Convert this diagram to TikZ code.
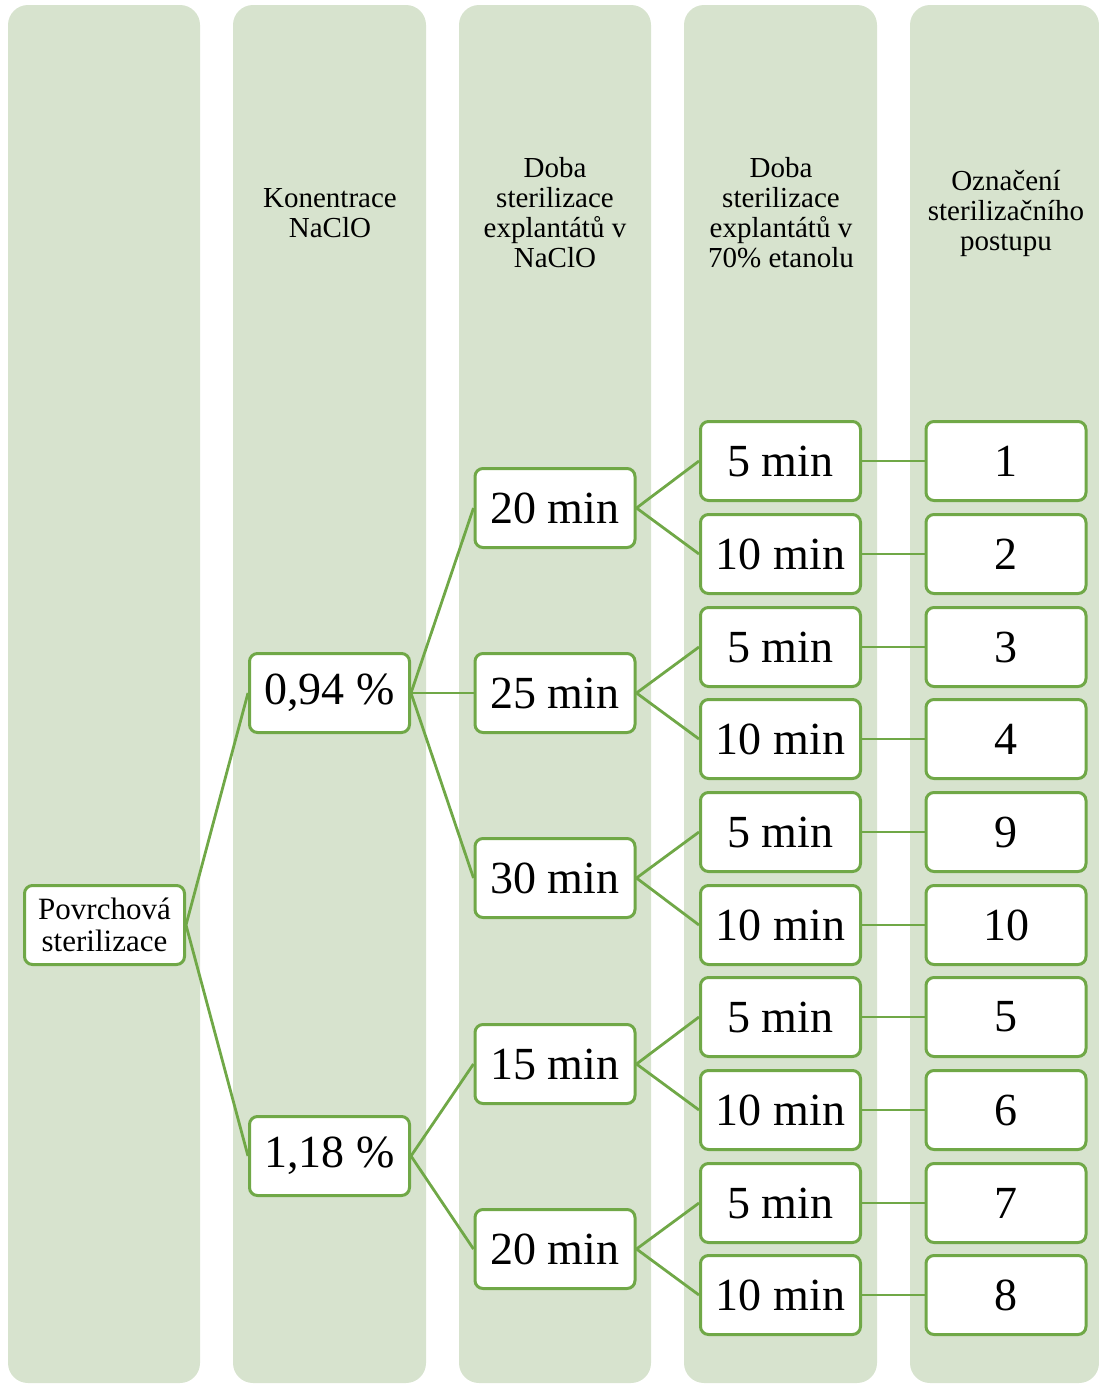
\documentclass[tikz,border=0pt]{standalone}
\usepackage{fontspec}
\setmainfont{Liberation Serif}
\definecolor{colfill}{RGB}{215,227,206}
\definecolor{gline}{RGB}{112,168,71}
\begin{document}
\begin{tikzpicture}[x=1pt,y=-1pt,
  column/.style={fill=colfill, draw=none, rounded corners=20pt},
  box/.style={draw=gline, line width=3pt, fill=white, rounded corners=8pt,
    minimum width=160pt, minimum height=79pt, inner sep=0pt, align=center,
    font=\fontsize{46}{50}\selectfont},
  rootbox/.style={box, font=\fontsize{31}{32}\selectfont},
  head/.style={align=center, font=\fontsize{29}{30}\selectfont, inner sep=0pt},
  conn/.style={draw=gline, line width=2.8pt}]
\useasboundingbox (0,0) rectangle (1099,1384);
% columns
\fill[column] (8,5) rectangle (200,1383);
\fill[column] (233,5) rectangle (426,1383);
\fill[column] (459,5) rectangle (651,1383);
\fill[column] (684,5) rectangle (877,1383);
\fill[column] (910,5) rectangle (1099,1383);
% headers
\node[head] (h2) at (330,213) {Konentrace\\NaClO};
\node[head] (h3) at (555,213) {Doba\\sterilizace\\explantátů v\\NaClO};
\node[head] (h4) at (781,213) {Doba\\sterilizace\\explantátů v\\70\% etanolu};
\node[head] (h5) at (1006,213) {Označení\\sterilizačního\\postupu};
% nodes
\node[rootbox] (root) at (104.5,925) {Povrchová\\sterilizace};
\node[box] (c1) at (329.5,693) {\raisebox{-3pt}{0,94 \%}};
\node[box] (c2) at (329.5,1156) {\raisebox{-3pt}{1,18 \%}};
\node[box] (t1) at (555,508) {20 min};
\node[box] (t2) at (555,693) {25 min};
\node[box] (t3) at (555,878) {30 min};
\node[box] (t4) at (555,1064) {15 min};
\node[box] (t5) at (555,1249) {20 min};
\foreach \i/\y/\lab/\num in {1/461/5 min/1, 2/554/10 min/2, 3/647/5 min/3, 4/739/10 min/4,
  5/832/5 min/9, 6/925/10 min/10, 7/1017/5 min/5, 8/1110/10 min/6, 9/1203/5 min/7, 10/1295/10 min/8}{
  \node[box] (e\i) at (780.5,\y) {\lab};
  \node[box] (n\i) at (1006,\y) {\num};
}
% connectors
\draw[conn] (root.east) -- (c1.west);
\draw[conn] (root.east) -- (c2.west);
\draw[conn] (c1.east) -- (t1.west);
\draw[conn] (c1.east) -- (t2.west);
\draw[conn] (c1.east) -- (t3.west);
\draw[conn] (c2.east) -- (t4.west);
\draw[conn] (c2.east) -- (t5.west);
\draw[conn] (t1.east) -- (e1.west);
\draw[conn] (t1.east) -- (e2.west);
\draw[conn] (t2.east) -- (e3.west);
\draw[conn] (t2.east) -- (e4.west);
\draw[conn] (t3.east) -- (e5.west);
\draw[conn] (t3.east) -- (e6.west);
\draw[conn] (t4.east) -- (e7.west);
\draw[conn] (t4.east) -- (e8.west);
\draw[conn] (t5.east) -- (e9.west);
\draw[conn] (t5.east) -- (e10.west);
\foreach \i in {1,...,10}{\draw[conn] (e\i.east) -- (n\i.west);}
\end{tikzpicture}
\end{document}
